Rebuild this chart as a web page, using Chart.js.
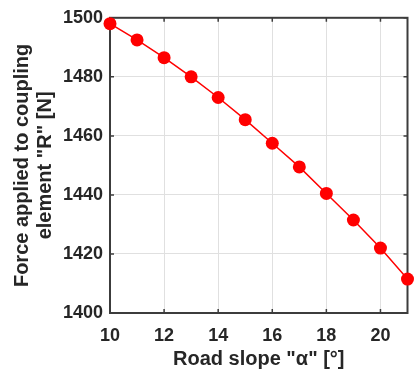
<!DOCTYPE html>
<html>
<head>
<meta charset="utf-8">
<script src="https://cdn.jsdelivr.net/npm/chart.js@4/dist/chart.umd.min.js"></script>
<style>
  html, body { margin: 0; padding: 0; background: #fff; }
  #wrap { width: 414px; height: 376px; }
</style>
</head>
<body>
<div id="wrap"><canvas id="forceChart"></canvas></div>
<script>
// road slope (deg) and force on coupling element R (N)
const slopeDeg = [10, 11, 12, 13, 14, 15, 16, 17, 18, 19, 20, 21];
const forceN = [1498, 1492.5, 1486.5, 1480, 1473, 1465.5, 1457.5, 1449.5, 1440.5, 1431.5, 1422, 1411.5];

const xTicks = [10, 12, 14, 16, 18, 20];
const yTicks = [1400, 1420, 1440, 1460, 1480, 1500];

const axisColor = '#3c3c3c';
const textColor = '#262626';

// matlab style box with inward tick marks
const boxPlugin = {
    id: 'box',
    beforeDatasetsDraw(chart) {
        const ctx = chart.ctx;
        const area = chart.chartArea;
        const xs = chart.scales.x;
        const ys = chart.scales.y;
        const len = 4;
        ctx.save();
        ctx.strokeStyle = axisColor;
        ctx.lineWidth = 1.5;
        ctx.beginPath();
        xTicks.forEach(function(v) {
            const px = xs.getPixelForValue(v);
            ctx.moveTo(px, area.bottom);
            ctx.lineTo(px, area.bottom - len);
            ctx.moveTo(px, area.top);
            ctx.lineTo(px, area.top + len);
        });
        yTicks.forEach(function(v) {
            const py = ys.getPixelForValue(v);
            ctx.moveTo(area.left, py);
            ctx.lineTo(area.left + len, py);
            ctx.moveTo(area.right, py);
            ctx.lineTo(area.right - len, py);
        });
        ctx.stroke();
        ctx.lineWidth = 2;
        ctx.strokeRect(area.left, area.top, area.right - area.left, area.bottom - area.top);
        ctx.restore();
    }
};

const ctx = document.getElementById('forceChart').getContext('2d');

new Chart(ctx, {
    type: 'line',
    data: {
        datasets: [{
            data: slopeDeg.map((x, i) => ({ x: x, y: forceN[i] })),
            borderColor: '#ff0000',
            backgroundColor: '#ff0000',
            borderWidth: 1.5,
            pointRadius: 6.5,
            pointBorderWidth: 0,
            pointBackgroundColor: '#ff0000',
            clip: false,
            tension: 0
        }]
    },
    options: {
        responsive: true,
        maintainAspectRatio: false,
        animation: false,
        layout: {
            padding: { left: 0, right: 5, top: 13, bottom: 0 }
        },
        plugins: {
            legend: { display: false },
            tooltip: { enabled: false }
        },
        scales: {
            x: {
                type: 'linear',
                min: 10,
                max: 21,
                afterBuildTicks: function(scale) {
                    scale.ticks = xTicks.map(v => ({ value: v }));
                },
                afterFit: function(scale) {
                    scale.height = 63;
                },
                border: { display: false },
                grid: {
                    color: '#e0e0e0',
                    lineWidth: 1,
                    drawTicks: false
                },
                ticks: {
                    color: textColor,
                    padding: 12,
                    maxRotation: 0,
                    callback: v => String(v),
                    font: { family: 'Liberation Sans, Arial, sans-serif', size: 18, weight: 'bold' }
                },
                title: {
                    display: true,
                    text: 'Road slope "α" [°]',
                    color: textColor,
                    padding: { top: 0, bottom: 5 },
                    font: { family: 'Liberation Sans, Arial, sans-serif', size: 20, weight: 'bold', lineHeight: 1.15 }
                }
            },
            y: {
                min: 1400,
                max: 1500,
                afterBuildTicks: function(scale) {
                    scale.ticks = yTicks.map(v => ({ value: v }));
                },
                afterFit: function(scale) {
                    scale.width = 110;
                },
                border: { display: false },
                grid: {
                    color: '#e0e0e0',
                    lineWidth: 1,
                    drawTicks: false
                },
                ticks: {
                    color: textColor,
                    padding: 7,
                    callback: v => String(v),
                    font: { family: 'Liberation Sans, Arial, sans-serif', size: 18, weight: 'bold' }
                },
                title: {
                    display: true,
                    text: ['Force applied to coupling', 'element "R" [N]'],
                    color: textColor,
                    padding: { top: 11, bottom: 0 },
                    font: { family: 'Liberation Sans, Arial, sans-serif', size: 20, weight: 'bold', lineHeight: 1.15 }
                }
            }
        }
    },
    plugins: [boxPlugin]
});
</script>
</body>
</html>
